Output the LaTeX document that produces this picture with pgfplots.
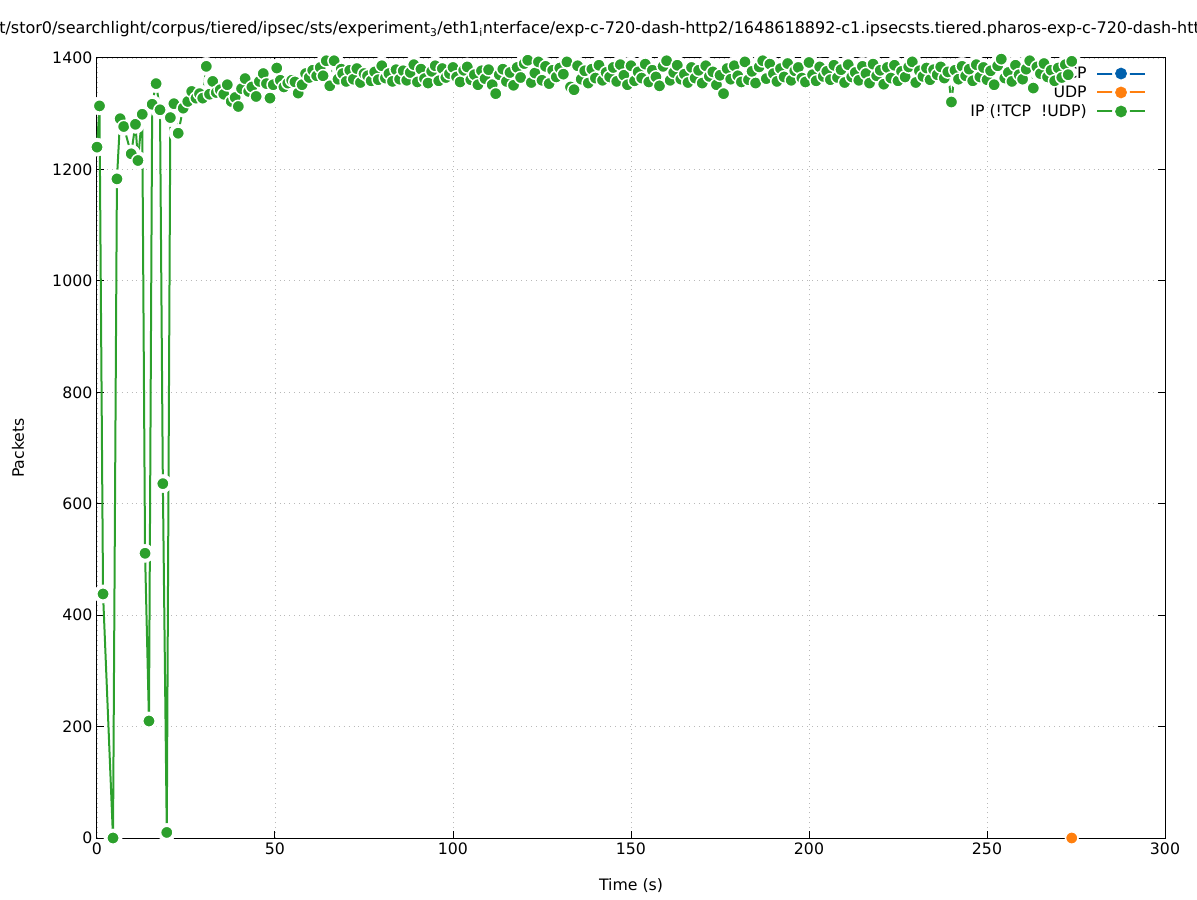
\documentclass[border=0pt]{standalone}
\usepackage{fontspec}
\setmainfont{DejaVu Sans}
\usepackage{pgfplots}
\usepackage{pgfplotstable}
\pgfplotsset{compat=1.18}

\definecolor{ipgreen}{RGB}{44,160,44}
\definecolor{udporange}{RGB}{255,127,14}
\definecolor{tcpblue}{RGB}{0,96,173}

% legend sample: line, gap, dot
\newcommand{\legimg}[1]{%
  \draw[#1, line width=1.5pt] (0pt,0pt) -- (36pt,0pt);
  \fill[white] (18pt,0pt) circle (6.5pt);
  \fill[#1] (18pt,0pt) circle (4.2pt);}

\pgfplotsset{
  frame/.style={
    at={(0pt,0pt)}, anchor=south west,
    scale only axis,
    width=801pt, height=585pt,
    xmin=0, xmax=300,
    ymin=0, ymax=1400,
    clip=false},
  ipmarks/.style={white, only marks, mark=*, mark size=4.65pt,
    mark options={fill=ipgreen, draw=white, line width=1.1pt}},
}

\pgfplotstableread{
x y
0.0 1240
0.7 1314
1.7 438
4.5 0
5.6 1183
6.5 1291
7.5 1277
9.6 1228
10.8 1281
11.5 1216
12.7 1299
13.5 511
14.6 210
15.5 1317
16.6 1354
17.7 1307
18.5 636
19.6 10
20.6 1293
21.6 1318
22.8 1265
24.2 1310
25.5 1322
26.6 1340
27.8 1328
28.8 1336
29.7 1328
30.7 1385
31.6 1335
32.5 1358
33.5 1338
34.6 1343
35.6 1335
36.6 1352
37.7 1322
38.8 1329
39.7 1313
40.6 1345
41.6 1363
42.6 1340
43.5 1348
44.7 1331
45.6 1358
46.7 1372
47.6 1354
48.6 1328
49.5 1352
50.5 1382
51.5 1360
52.5 1348
53.6 1355
54.7 1360
55.6 1357
56.5 1337
57.6 1352
58.6 1372
59.6 1365
60.6 1378
61.7 1368
62.7 1383
63.5 1368
64.4 1395
65.4 1350
66.6 1395
67.7 1362
68.6 1380
69.0 1372
70 1358
71 1378
72 1362
73 1381
74 1356
75 1372
76 1368
77 1359
78 1375
79 1361
80 1386
81 1364
82 1372
83 1358
84 1379
85 1362
86 1377
87 1360
88 1374
89 1388
90 1357
91 1380
92 1363
93 1355
94 1376
95 1386
96 1359
97 1381
98 1365
99 1372
100 1383
101 1366
102 1357
103 1378
104 1384
105 1361
106 1370
107 1352
108 1377
109 1363
110 1379
111 1352
112 1336
113 1370
114 1380
115 1358
116 1374
117 1351
118 1383
119 1365
120 1390
121 1396
122 1356
123 1373
124 1393
125 1360
126 1385
127 1354
128 1378
129 1366
130 1382
131 1371
132 1393
133 1348
134 1343
135 1386
136 1362
137 1377
138 1355
139 1380
140 1364
141 1387
142 1360
143 1374
144 1366
145 1383
146 1358
147 1388
148 1369
149 1352
150 1386
151 1359
152 1375
153 1364
154 1389
155 1357
156 1378
157 1366
158 1350
159 1385
160 1395
161 1360
162 1374
163 1387
164 1362
165 1371
166 1356
167 1383
168 1364
169 1378
170 1355
171 1386
172 1367
173 1375
174 1352
175 1369
176 1336
177 1381
178 1362
179 1386
180 1368
181 1357
182 1393
183 1361
184 1376
185 1355
186 1384
187 1395
188 1363
189 1389
190 1372
191 1358
192 1381
193 1366
194 1390
195 1360
196 1377
197 1383
198 1364
199 1357
200 1392
201 1370
202 1359
203 1384
204 1367
205 1376
206 1361
207 1387
208 1365
209 1379
210 1356
211 1388
212 1366
213 1374
214 1360
215 1385
216 1372
217 1355
218 1389
219 1368
220 1378
221 1353
222 1383
223 1364
224 1387
225 1359
226 1376
227 1366
228 1384
229 1393
230 1356
231 1377
232 1367
233 1382
234 1361
235 1379
236 1370
237 1384
238 1364
239 1375
240 1321
241 1378
242 1362
243 1385
244 1368
245 1380
246 1359
247 1388
248 1366
249 1383
250 1361
251 1377
252 1352
253 1386
254 1398
255 1364
256 1374
257 1358
258 1387
259 1370
260 1362
261 1380
262 1395
263 1346
264 1384
265 1372
266 1390
267 1366
268 1378
269 1359
270 1382
271 1365
272 1388
272.8 1370
273.8 1394
}\ipdata

\begin{document}
\begin{tikzpicture}[font=\fontsize{11.8pt}{14pt}\selectfont]
\useasboundingbox (-72.75pt,-46.5pt) rectangle (825pt,628.5pt);
\begin{axis}[
    frame,
    xtick={0,50,100,150,200,250,300},
    ytick={0,200,400,600,800,1000,1200,1400},
    /pgf/number format/assume math mode=true,
    /pgf/number format/1000 sep={},
    tick align=inside,
    major tick length=5pt,
    tick style={black, line width=0.75pt},
    axis line style={black, line width=0.75pt},
    grid=major,
    major grid style={gray!55, line width=0.7pt, dash pattern=on 0.7pt off 3pt},
    title={t/stor0/searchlight/corpus/tiered/ipsec/sts/experiment\textsubscript{3}/eth1\textsubscript{i}nterface/exp-c-720-dash-http2/1648618892-c1.ipsecsts.tiered.pharos-exp-c-720-dash-http2/},
    title style={font=\fontsize{12pt}{14pt}\selectfont, at={(axis description cs:0,1)}, anchor=base west, xshift=-73.5pt, yshift=12pt, inner sep=0pt},
    xlabel={Time (s)},
    ylabel={Packets},
    xlabel style={at={(axis description cs:0.5,-0.0615)}, anchor=center},
    ylabel style={at={(axis description cs:-0.074,0.5)}, anchor=center},
    legend style={draw=none, fill=none, at={(0.985,0.996)}, anchor=north east,
                  legend cell align=right, row sep=0pt, inner sep=2pt,
                  /tikz/column sep=5pt},
    legend plot pos=right,
  ]
  % line, then white gaps round each point, then the points
  \addplot[ipgreen, line width=1.5pt, forget plot] table {\ipdata};
  \addplot[white, only marks, mark=*, mark size=6.8pt, forget plot] table {\ipdata};
  \addplot[white, only marks, mark=*, mark size=4.65pt, mark options={fill=tcpblue, draw=white, line width=1.1pt},
           legend image code/.code={\legimg{tcpblue}}] coordinates {(273.8,0)};
  \addplot[white, only marks, mark=*, mark size=4.65pt, mark options={fill=udporange, draw=white, line width=1.1pt},
           legend image code/.code={\legimg{udporange}}] coordinates {(273.8,0)};
  \addplot[ipmarks, legend image code/.code={\legimg{ipgreen}}] table {\ipdata};
  \legend{TCP, UDP, IP (!TCP\ \ !UDP)}
\end{axis}
% the points again, over the key, as in the original
\begin{axis}[frame, hide axis]
  \addplot[ipmarks] table {\ipdata};
\end{axis}
\end{tikzpicture}
\end{document}
